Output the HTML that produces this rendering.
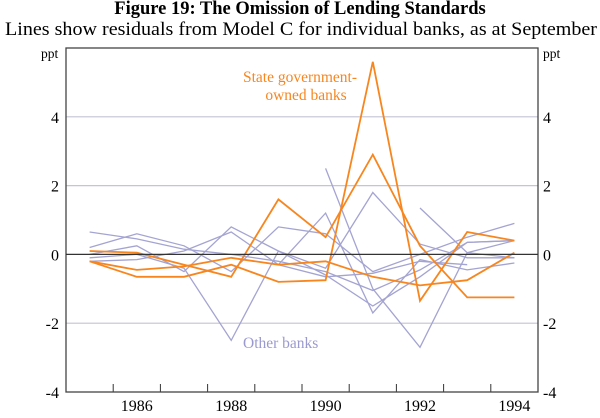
<!DOCTYPE html>
<html><head><meta charset="utf-8"><style>
body{margin:0;background:#fff;}
svg text{font-family:"Liberation Serif",serif;}
</style></head><body>
<svg width="600" height="413" xmlns="http://www.w3.org/2000/svg">
<text x="300" y="14" text-anchor="middle" font-size="18.5" font-weight="bold">Figure 19: The Omission of Lending Standards</text>
<text x="301" y="35" text-anchor="middle" font-size="19" textLength="592" lengthAdjust="spacingAndGlyphs">Lines show residuals from Model C for individual banks, as at September</text>
<text x="41" y="58" font-size="13.5">ppt</text>
<text x="543" y="58" font-size="13.5">ppt</text>
<g id="grid"></g>
<g id="blue"></g>
<g id="orange"></g>
<g id="axes"></g>
<text x="300" y="82" text-anchor="middle" font-size="15.5" fill="#f7861f">State government-</text>
<text x="306" y="100" text-anchor="middle" font-size="15.5" fill="#f7861f">owned banks</text>
<text x="243" y="348" font-size="15.5" fill="#9a9ad0">Other banks</text>
</svg>
<script>
const years=[1985,1986,1987,1988,1989,1990,1991,1992,1993,1994];
const yTicks=[-4,-2,0,2,4];
const xLabels=[1986,1988,1990,1992,1994];
const stateA=[0.1,0.05,-0.3,-0.65,1.6,0.5,2.9,0.25,-1.25,-1.25];
const stateB=[-0.2,-0.45,-0.35,-0.1,-0.3,-0.2,-0.65,-0.9,-0.75,0.05];
const stateC=[-0.2,-0.65,-0.65,-0.3,-0.8,-0.75,5.6,-1.35,0.65,0.4];
const other1=[0.65,0.45,0.15,0.0,-0.2,-0.5,-1.05,-0.45,0.35,0.4];
const other2=[0.2,0.6,0.25,-0.5,0.8,0.6,-0.5,0,0.5,0.9];
const other3=[0,0.25,-0.5,0.8,0.1,-0.6,-1.5,-0.65,0.35,0.4];
const other4=[-0.2,-0.15,0.1,0.65,-0.3,1.2,-1.7,-0.15,-0.45,-0.25];
const other5=[-0.1,0,-0.4,-2.5,0.1,-0.4,1.8,0.3,-0.1,-0.1];
const other6=[null,null,null,null,null,2.5,-1.0,-2.7,0.05,0.4];
const other7=[null,null,null,null,null,null,null,1.35,0.05,-0.1];
const other8=[null,null,null,null,-0.3,-0.65,-0.55,-0.2,-0.3,null];
const L=66,R=538,T=48,B=392,ymin=-4,ymax=6;
const xs=y=>L+(y-1985+0.5)*(R-L)/10;
const ys=v=>B-(v-ymin)*(B-T)/(ymax-ymin);
const NS='http://www.w3.org/2000/svg';
function mk(tag,attrs,parent){const e=document.createElementNS(NS,tag);for(const k in attrs)e.setAttribute(k,attrs[k]);document.getElementById(parent).appendChild(e);return e;}
yTicks.forEach(t=>{
  if(t!==-4&&t!==0){const g=mk('line',{x1:L,x2:R,y1:ys(t),y2:ys(t),stroke:'#c4c4d4','stroke-width':1.2},'grid');
  
  }
  const a=mk('text',{x:L-7,y:ys(t)+6,'text-anchor':'end','font-size':16},'axes');a.textContent=t;
  
  
  const b=mk('text',{x:R+5,y:ys(t)+6,'font-size':16},'axes');b.textContent=t;
  
  
});
xLabels.forEach(y=>{const t=mk('text',{x:xs(y),y:411,'text-anchor':'middle','font-size':16},'axes');t.textContent=y;
  
  });
for(let i=1;i<10;i++){const x=L+i*(R-L)/10;const tk=mk('line',{x1:x,x2:x,y1:B,y2:B-8,stroke:'#333','stroke-width':1},'axes');
  
  }
const fr=mk('rect',{x:L,y:T,width:R-L,height:B-T,fill:'none',stroke:'#444','stroke-width':1.3},'axes');


const z=mk('line',{x1:L,x2:R,y1:ys(0),y2:ys(0),stroke:'#333','stroke-width':1.3},'axes');


function drawLine(vals,color,w,parent,name){
  let d='',pen=false;
  vals.forEach((v,i)=>{if(v===null){pen=false;return;}d+=(pen?'L':'M')+xs(years[i]).toFixed(1)+','+ys(v).toFixed(1);pen=true;});
  const p=mk('path',{d:d,fill:'none',stroke:color,'stroke-width':w,'stroke-linejoin':'miter'},parent);
  
  
}
[other1,other2,other3,other4,other5,other6,other7,other8].forEach((s,i)=>drawLine(s,'#a4a4d2',1.3,'blue','other-bank-line-'+(i+1)));
[stateA,stateB,stateC].forEach((s,i)=>drawLine(s,'#f7861f',1.8,'orange','state-bank-line-'+(i+1)));
</script>
</body></html>
